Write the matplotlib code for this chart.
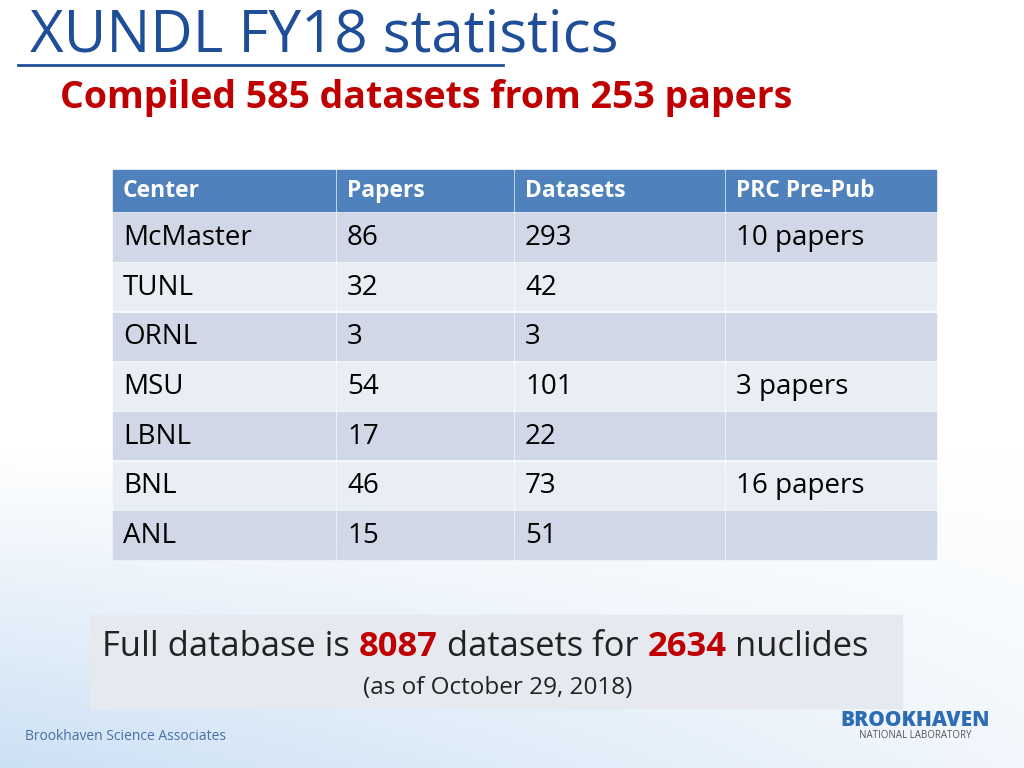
import matplotlib
matplotlib.use("Agg")
import matplotlib.pyplot as plt
import numpy as np
from matplotlib.patches import Rectangle

headers = ["Center", "Papers", "Datasets", "PRC Pre-Pub"]
centers = ["McMaster", "TUNL", "ORNL", "MSU", "LBNL", "BNL", "ANL"]
papers = [86, 32, 3, 54, 17, 46, 15]
datasets = [293, 42, 3, 101, 22, 73, 51]
prc = ["10 papers", "", "", "3 papers", "", "16 papers", ""]

FONT = "Open Sans"
fig = plt.figure(figsize=(10.24, 7.68), dpi=100)
ax = fig.add_axes([0, 0, 1, 1])
ax.set_xlim(0, 1024); ax.set_ylim(768, 0); ax.axis("off")

yy, xx = np.mgrid[0:768, 0:1024]
g = np.clip((yy - 450) / 318.0, 0, 1) * np.clip(1 - xx / 1400.0, 0, 1)
img = np.ones((768, 1024, 3))
base = np.array([0.80, 0.88, 0.96])
img = img * (1 - g[..., None]) + base * g[..., None]
ax.imshow(img, extent=(0, 1024, 768, 0), zorder=0, aspect="auto")

ax.text(30, 36, "XUNDL FY18 statistics", fontsize=42, color="#1F4E99",
        family=FONT, va="center", ha="left")
ax.plot([18, 503], [65, 65], color="#1F4E99", lw=2)
ax.text(60, 98, "Compiled 585 datasets from 253 papers", fontsize=27,
        color="#C00000", family=FONT, weight="bold", va="center")

cols = [112, 336, 514, 725, 937]
rows = [170, 212] + [212 + 49.7 * (i + 1) for i in range(7)]
pad = 1.2
for j in range(4):
    ax.add_patch(Rectangle((cols[j] + pad, rows[0]), cols[j+1] - cols[j] - 2*pad,
                           rows[1] - rows[0] - pad, color="#4F81BD", zorder=2))
    ax.text(cols[j] + 11, (rows[0] + rows[1]) / 2, headers[j], fontsize=16.5,
            color="white", family=FONT, weight="bold", va="center", zorder=3)
for i in range(7):
    fc = "#D0D8E8" if i % 2 == 0 else "#E9EDF4"
    vals = [centers[i], str(papers[i]), str(datasets[i]), prc[i]]
    for j in range(4):
        ax.add_patch(Rectangle((cols[j] + pad, rows[i+1] + pad),
                               cols[j+1] - cols[j] - 2*pad,
                               rows[i+2] - rows[i+1] - 2*pad, color=fc, zorder=2))
        ax.text(cols[j] + 11, (rows[i+1] + rows[i+2]) / 2 + 1, vals[j],
                fontsize=20, color="black", family=FONT, va="center", zorder=3)

ax.add_patch(Rectangle((90, 615), 812, 93, color="#E6E9F0", zorder=2))
parts = [("Full database is ", "#222222", "normal"), ("8087", "#C00000", "bold"),
         (" datasets for ", "#222222", "normal"), ("2634", "#C00000", "bold"),
         (" nuclides", "#222222", "normal")]
fig.canvas.draw()
r = fig.canvas.get_renderer()
x = 102
for t, c, w in parts:
    tx = ax.text(x, 647, t.replace(" ", "\u00a0"), fontsize=24.8, color=c, weight=w,
                 family=FONT, va="center", zorder=3)
    bb = tx.get_window_extent(renderer=r)
    x += bb.width
ax.text(498, 688, "(as of October 29, 2018)", fontsize=17.5, color="#222222",
        family=FONT, ha="center", va="center", zorder=3)

ax.text(25, 737, "Brookhaven Science Associates", fontsize=10, color="#4A6FA5",
        family=FONT, va="center")
ax.text(915, 720, "BROOKHAVEN", fontsize=15, color="#2E6DB4", family=FONT,
        weight="heavy", ha="center", va="center")
ax.text(915, 735, "NATIONAL LABORATORY", fontsize=7, color="#555555", family=FONT,
        ha="center", va="center")

fig.savefig("out.png", dpi=100)
